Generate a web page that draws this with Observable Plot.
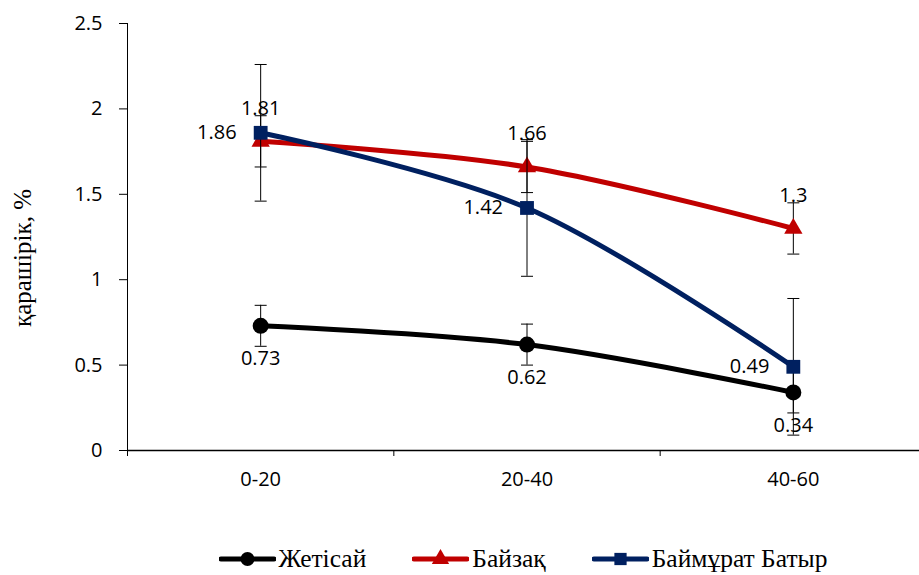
<!DOCTYPE html>
<html>
<head>
<meta charset="utf-8">
<script src="https://cdn.jsdelivr.net/npm/d3@7"></script>
<script src="https://cdn.jsdelivr.net/npm/@observablehq/plot@0.6"></script>
<style>
  html, body { margin: 0; padding: 0; background: #fff; overflow: hidden; }
  #chart svg { overflow: visible; }
  #chart svg g[aria-label$="tick label"] text { font-size: 20px; font-family: "Open Sans", sans-serif; fill: #000; }
  #legend { position: absolute; top: 544px; left: 127px; width: 792px; display: flex; justify-content: center; gap: 46px;
            font-family: "Liberation Serif", "Times New Roman", "DejaVu Serif", serif; font-size: 25.5px; color: #000; }
  .item { display: flex; align-items: center; gap: 3px; height: 30px; }
  #ylabel { position: absolute; left: 23px; top: 258px; transform: translate(-50%, -50%) rotate(-90deg);
            white-space: nowrap; font-family: "Liberation Serif", "Times New Roman", "DejaVu Serif", serif; font-size: 25px; color: #000; }
</style>
</head>
<body>
<div id="chart"></div>
<div id="ylabel"></div>
<div id="legend"></div>
<script>
const categories = ["0-20", "20-40", "40-60"];
const seriesNames = ["Жетісай", "Байзақ", "Баймұрат Батыр"];
const zhetisai = [0.73, 0.62, 0.34];
const baizak = [1.81, 1.66, 1.3];
const baimurat = [1.86, 1.42, 0.49];
const errors = [0.12, 0.15, 0.40];
const colors = ["#000000", "#C00000", "#002060"];
const symbols = ["circle", "triangle", "square"];
const yTicks = [0, 0.5, 1, 1.5, 2, 2.5];
const yLabel = "қарашірік, %";

const values = [zhetisai, baizak, baimurat];
const data = seriesNames.flatMap((s, k) =>
  values[k].map((v, i) => ({ series: s, k, i, cat: categories[i], value: v, err: errors[k] })));

const capSymbol = { draw(ctx) { ctx.moveTo(-6, 0); ctx.lineTo(6, 0); } };

const labelOpts = [
  { dy: 33, textAnchor: "middle" },
  { dy: -33, textAnchor: "middle" },
  { dx: -24, textAnchor: "end" }
];

const seriesMarks = seriesNames.flatMap((s, k) => {
  const d = data.filter(r => r.k === k);
  return [
    Plot.line(d, { x: "i", y: "value", stroke: colors[k], strokeWidth: 5, curve: "catmull-rom" }),
    Plot.ruleX(d, { x: "i", y1: r => r.value - r.err, y2: r => r.value + r.err, stroke: "#000", strokeWidth: 1 }),
    Plot.dot(d, { x: "i", y: r => r.value + r.err, symbol: capSymbol, r: 5, stroke: "#000", strokeWidth: 1, fill: "none" }),
    Plot.dot(d, { x: "i", y: r => r.value - r.err, symbol: capSymbol, r: 5, stroke: "#000", strokeWidth: 1, fill: "none" }),
    Plot.dot(d, { x: "i", y: "value", symbol: symbols[k], r: k === 0 ? 8 : (k === 1 ? 6.8 : 7.8), fill: colors[k], stroke: "none" })
  ];
});

const labelMarks = seriesNames.map((s, k) =>
  Plot.text(data.filter(r => r.k === k), {
    x: "i", y: "value", text: r => String(r.value), ...labelOpts[k],
    fontSize: 20, fill: "#000", fontFamily: "Open Sans"
  }));

const chart = Plot.plot({
  width: 919,
  height: 500,
  marginLeft: 127,
  marginRight: -7,
  marginTop: 23,
  marginBottom: 50,
  style: { fontFamily: "Open Sans", fontSize: "20px", color: "#000", background: "transparent", overflow: "visible" },
  x: { domain: [-0.5, 2.5], range: [127, 926] },
  y: { domain: [0, 2.5] },
  marks: [
    Plot.axisY({ ticks: yTicks, tickSize: 8, tickPadding: 17, tickFormat: d => String(d), label: null, stroke: "#000" }),
    Plot.axisX({ ticks: [-0.5, 0.5, 1.5], tickSize: 6, tickFormat: () => "", label: null }),
    Plot.axisX({ ticks: [0, 1, 2], tickSize: 0, tickPadding: 21, tickFormat: i => categories[i], label: null }),
    Plot.ruleX([-0.5], { stroke: "#000", strokeWidth: 1 }),
    Plot.ruleY([0], { stroke: "#000", strokeWidth: 1.3 }),
    ...seriesMarks,
    ...labelMarks
  ]
});
document.getElementById("chart").appendChild(chart);
document.getElementById("ylabel").textContent = yLabel;

// legend
const legend = d3.select("#legend");
seriesNames.forEach((s, k) => {
  const item = legend.append("div").attr("class", "item");
  const svg = item.append("svg").attr("width", 57).attr("height", 20);
  svg.append("line").attr("x1", 2).attr("x2", 55).attr("y1", 10).attr("y2", 10)
    .attr("stroke", colors[k]).attr("stroke-width", 5).attr("stroke-linecap", "round");
  const sym = [d3.symbolCircle, d3.symbolTriangle, d3.symbolSquare][k];
  svg.append("path").attr("transform", "translate(28.5,10)")
    .attr("d", d3.symbol(sym, k === 0 ? 150 : (k === 1 ? 130 : 150))()).attr("fill", colors[k]);
  item.append("span").text(s);
});
</script>
</body>
</html>
